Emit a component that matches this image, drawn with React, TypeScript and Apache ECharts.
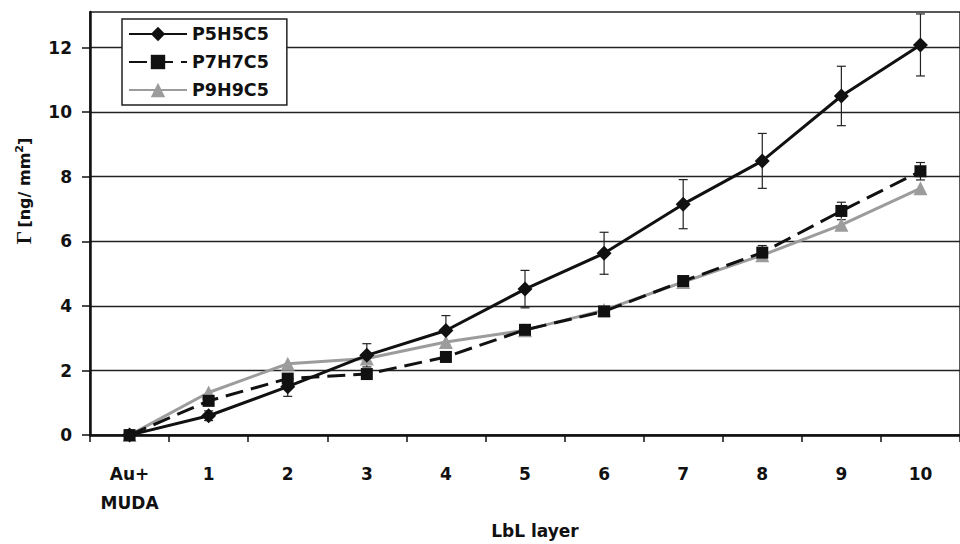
import React, { useEffect, useRef } from "react";
import * as echarts from "echarts";

const categories = ["Au+\nMUDA", "1", "2", "3", "4", "5", "6", "7", "8", "9", "10"];
const p5h5c5 = [0, 0.6, 1.5, 2.47, 3.24, 4.52, 5.63, 7.15, 8.49, 10.5, 12.08];
const p5h5c5Err = [0, 0.15, 0.3, 0.36, 0.46, 0.58, 0.65, 0.76, 0.85, 0.92, 0.96];
const p7h7c5 = [0, 1.06, 1.75, 1.89, 2.42, 3.26, 3.83, 4.77, 5.65, 6.94, 8.17];
const p7h7c5Err = [0, 0.1, 0.15, 0.1, 0.15, 0.1, 0.1, 0.15, 0.22, 0.27, 0.27];
const p9h9c5 = [0, 1.32, 2.21, 2.37, 2.88, 3.25, 3.87, 4.74, 5.57, 6.51, 7.64];
const yTicks = [0, 2, 4, 6, 8, 10, 12];

const FONT = "DejaVu Sans";
const BLACK = "#111111";
const GRAY = "#9c9c9c";

function errorSeries(values: number[], errs: number[], color: string) {
  const data = values.map((v, i) => [i, v - errs[i], v + errs[i]]);
  return {
    type: "custom",
    z: 1,
    silent: true,
    data,
    renderItem: (params: any, api: any) => {
      const x = api.value(0);
      const lo = api.coord([x, api.value(1)]);
      const hi = api.coord([x, api.value(2)]);
      const cap = 4.5;
      const st = { stroke: color, lineWidth: 1.2 };
      return {
        type: "group",
        children: [
          { type: "line", shape: { x1: lo[0], y1: lo[1], x2: hi[0], y2: hi[1] }, style: st },
          { type: "line", shape: { x1: lo[0] - cap, y1: lo[1], x2: lo[0] + cap, y2: lo[1] }, style: st },
          { type: "line", shape: { x1: hi[0] - cap, y1: hi[1], x2: hi[0] + cap, y2: hi[1] }, style: st },
        ],
      };
    },
  };
}

export default function App() {
  const ref = useRef<HTMLDivElement>(null);
  useEffect(() => {
    if (!ref.current) return;
    const chart = echarts.init(ref.current, undefined, { renderer: "svg" });
    chart.setOption({
      animation: false,
      backgroundColor: "#ffffff",
      grid: {
        left: 90,
        right: -10,
        top: 12,
        bottom: 105,
        show: true,
        borderColor: "#222",
        borderWidth: 1.5,
        backgroundColor: "transparent",
      },
      legend: {
        left: 122,
        top: 19,
        orient: "vertical",
        itemWidth: 58,
        itemHeight: 18,
        itemGap: 10,
        padding: [6, 18, 6, 6],
        backgroundColor: "#ffffff",
        borderColor: "#222",
        borderWidth: 1.5,
        textStyle: { fontFamily: FONT, fontWeight: "bold", fontSize: 17.5, color: BLACK },
        data: ["P5H5C5", "P7H7C5", "P9H9C5"],
      },
      xAxis: {
        type: "category",
        data: categories,
        boundaryGap: true,
        name: "LbL layer",
        nameLocation: "middle",
        nameGap: 85,
        nameTextStyle: {
          fontFamily: FONT,
          fontWeight: "bold",
          fontSize: 17,
          color: BLACK,
          padding: [0, 0, 0, 20],
        },
        axisLine: { lineStyle: { color: BLACK, width: 2.5 } },
        axisTick: { show: true, interval: 0, length: 7, lineStyle: { color: BLACK, width: 1.5 } },
        axisLabel: {
          interval: 0,
          margin: 24,
          fontFamily: FONT,
          fontWeight: "bold",
          fontSize: 17,
          color: BLACK,
          lineHeight: 29,
        },
        splitLine: { show: false },
      },
      yAxis: {
        type: "value",
        min: 0,
        max: 13.1,
        interval: 2,
        axisLine: { show: true, lineStyle: { color: BLACK, width: 2.5 } },
        axisTick: {
          show: true,
          length: 8,
          customValues: yTicks,
          lineStyle: { color: BLACK, width: 1.5 },
        },
        axisLabel: {
          margin: 18,
          fontFamily: FONT,
          fontWeight: "bold",
          fontSize: 17,
          color: BLACK,
          customValues: yTicks,
        },
        splitLine: { show: true, lineStyle: { color: "#222", width: 1.3 } },
      },
      graphic: [
        {
          type: "text",
          x: 24,
          y: 191,
          rotation: Math.PI / 2,
          style: {
            text: "{g|Γ} {t|[ng/ mm}{s|2}{t|]}",
            align: "center",
            verticalAlign: "middle",
            fill: BLACK,
            rich: {
              g: { fontFamily: "Liberation Serif", fontWeight: "bold", fontSize: 21, fill: BLACK },
              t: { fontFamily: FONT, fontWeight: "bold", fontSize: 16, fill: BLACK },
              s: { fontFamily: FONT, fontWeight: "bold", fontSize: 11, verticalAlign: "top", fill: BLACK },
            },
          },
        },
      ],
      series: [
        errorSeries(p5h5c5, p5h5c5Err, "#222"),
        errorSeries(p7h7c5, p7h7c5Err, "#222"),
        {
          name: "P9H9C5",
          type: "line",
          data: p9h9c5,
          z: 3,
          symbol: "triangle",
          symbolSize: 14,
          lineStyle: { color: GRAY, width: 3 },
          itemStyle: { color: GRAY },
        },
        {
          name: "P7H7C5",
          type: "line",
          data: p7h7c5,
          z: 4,
          symbol: "rect",
          symbolSize: 12,
          lineStyle: { color: BLACK, width: 3, type: [18, 8] },
          itemStyle: { color: BLACK },
        },
        {
          name: "P5H5C5",
          type: "line",
          data: p5h5c5,
          z: 5,
          symbol: "diamond",
          symbolSize: 15,
          lineStyle: { color: BLACK, width: 3 },
          itemStyle: { color: BLACK },
        },
      ],
    });
    return () => chart.dispose();
  }, []);
  return <div ref={ref} style={{ width: 960, height: 544, position: "absolute", left: 0, top: 0 }} />;
}
